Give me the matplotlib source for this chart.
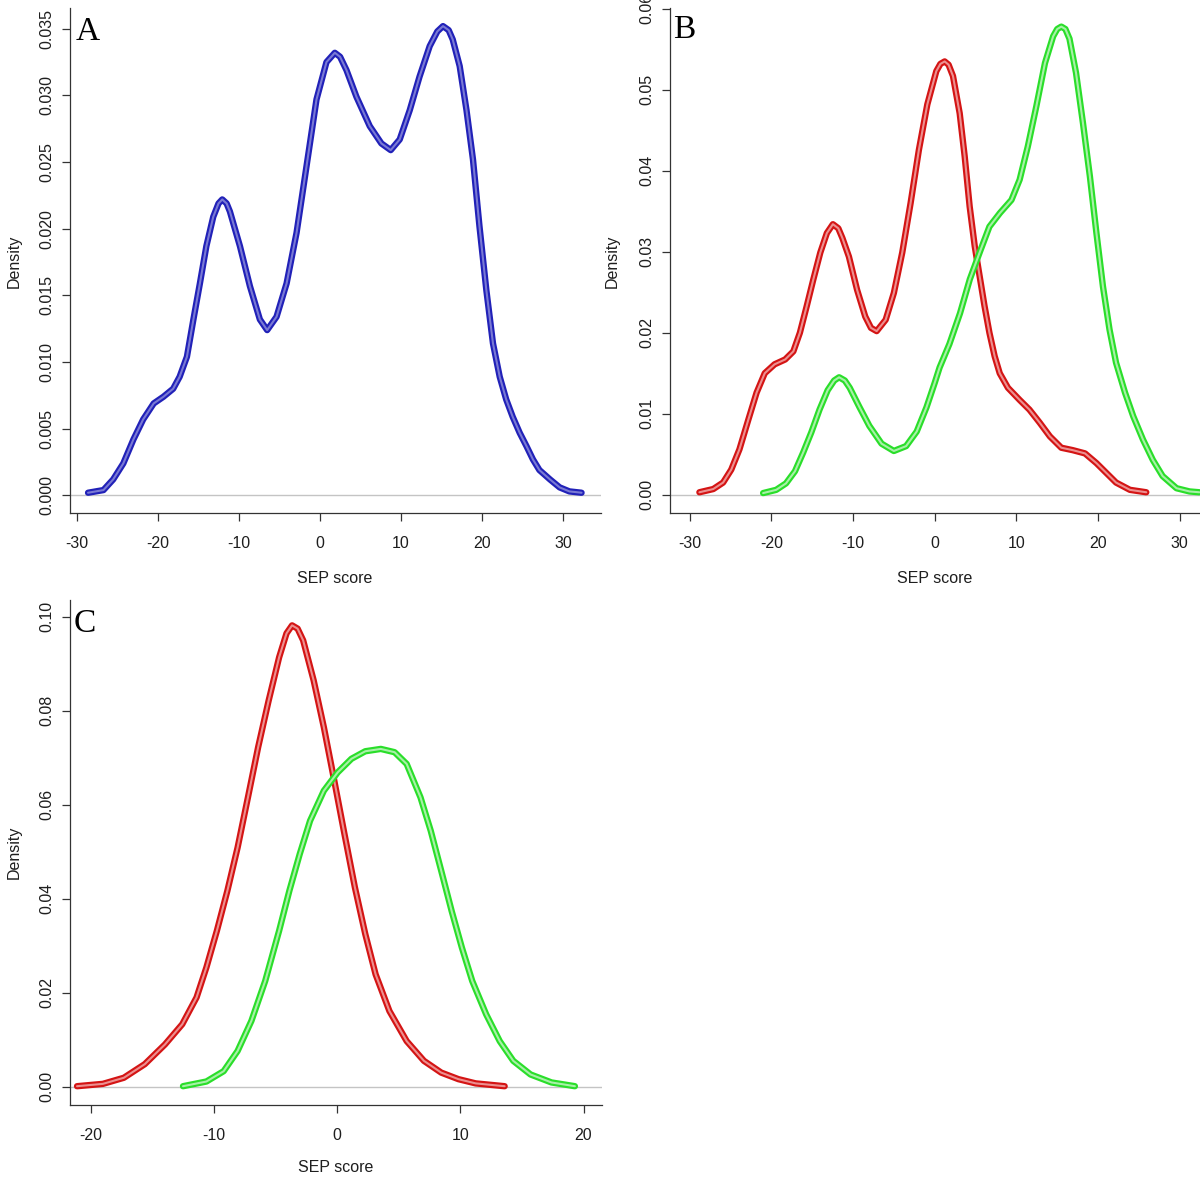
import matplotlib
matplotlib.use("Agg")
import matplotlib.pyplot as plt
import matplotlib.patheffects as pe

# ---------------- data ----------------
a_x = [-28.6, -26.7, -25.5, -24.25, -23.0, -21.8, -20.5, -19.3, -18.1, -17.3,
       -16.4, -15.6, -14.8, -14.0, -13.15, -12.5, -12.04, -11.5, -11.1, -9.86,
       -8.63, -7.4, -6.5, -5.34, -4.1, -2.87, -1.64, -0.41, 0.82, 1.85,
       2.5, 3.29, 4.52, 6.16, 7.6, 8.75, 9.86, 11.1, 12.3, 13.56,
       14.5, 15.2, 15.9, 16.4, 17.26, 18.1, 18.9, 19.7, 20.55, 21.37,
       22.2, 23.0, 23.8, 24.66, 25.5, 26.3, 27.1, 28.4, 29.6, 30.8, 32.3]
a_y = [0.0002, 0.0004, 0.0012, 0.0024, 0.0042, 0.0057, 0.0069, 0.0074, 0.0080, 0.0089,
       0.0104, 0.0132, 0.0159, 0.0187, 0.0209, 0.0219, 0.0222, 0.0219, 0.0213, 0.0187,
       0.0157, 0.0132, 0.0124, 0.0134, 0.0159, 0.0197, 0.0247, 0.0297, 0.0325, 0.0332,
       0.0329, 0.0319, 0.0299, 0.0277, 0.0264, 0.0259, 0.0267, 0.0289, 0.0314, 0.0337,
       0.0348, 0.0352, 0.0349, 0.0342, 0.0322, 0.0289, 0.0252, 0.0202, 0.0154, 0.0114,
       0.0089, 0.0072, 0.0059, 0.0047, 0.0037, 0.0027, 0.0019, 0.0012, 0.0006, 0.0003, 0.0002]

b_red_x = [-28.8, -27.1, -25.9, -24.9, -23.9, -22.8, -21.8, -20.8, -19.6, -18.3,
           -17.3, -16.5, -15.66, -14.85, -14.0, -13.2, -12.46, -11.8, -11.3, -10.5,
           -9.5, -8.5, -7.8, -7.1, -6.0, -5.0, -3.97, -2.95, -1.93, -0.9,
           0.2, 0.7, 1.22, 1.7, 2.24, 3.06, 3.67, 4.28, 4.9, 5.5,
           6.1, 6.7, 7.34, 7.96, 8.97, 10.4, 11.6, 12.85, 14.1, 15.5,
           16.9, 18.4, 19.8, 21.0, 22.2, 23.9, 25.9]
b_red_y = [0.0003, 0.0007, 0.0015, 0.0031, 0.0056, 0.0093, 0.0126, 0.0150, 0.0161, 0.0167,
           0.0177, 0.0200, 0.0233, 0.0266, 0.0299, 0.0323, 0.0334, 0.0329, 0.0317, 0.0294,
           0.0253, 0.0220, 0.0206, 0.0202, 0.0216, 0.0249, 0.0299, 0.0360, 0.0426, 0.0482,
           0.0523, 0.0532, 0.0535, 0.0531, 0.0517, 0.0471, 0.0418, 0.0356, 0.0307, 0.0270,
           0.0233, 0.0200, 0.0171, 0.0150, 0.0132, 0.0117, 0.0105, 0.0089, 0.0072, 0.0058,
           0.0055, 0.0051, 0.0039, 0.0027, 0.0015, 0.0006, 0.0003]

b_green_x = [-21.0, -19.4, -18.2, -17.1, -16.1, -15.1, -14.1, -13.1, -12.3, -11.7,
             -11.0, -10.4, -9.2, -8.0, -6.5, -5.0, -3.5, -2.2, -1.0, 0.0,
             0.6, 1.8, 3.1, 4.3, 5.5, 6.7, 8.0, 9.4, 10.4, 11.4,
             12.45, 13.5, 14.5, 15.0, 15.5, 16.0, 16.5, 17.3, 18.15, 19.0,
             19.8, 20.6, 21.4, 22.2, 23.3, 24.3, 25.5, 26.7, 27.9, 29.6,
             31.2, 32.4]
b_green_y = [0.0002, 0.0006, 0.0014, 0.0029, 0.0052, 0.0077, 0.0105, 0.0129, 0.0141, 0.0145,
             0.0141, 0.0132, 0.0108, 0.0085, 0.0063, 0.0054, 0.0060, 0.0078, 0.0108, 0.0138,
             0.0157, 0.0186, 0.0224, 0.0266, 0.0299, 0.0331, 0.0348, 0.0364, 0.0389, 0.0430,
             0.0480, 0.0533, 0.0566, 0.0575, 0.0578, 0.0575, 0.0563, 0.0521, 0.0459, 0.0393,
             0.0323, 0.0257, 0.0204, 0.0163, 0.0126, 0.0097, 0.0068, 0.0043, 0.0023, 0.0008,
             0.0004, 0.0003]

c_red_x = [-21.1, -19.0, -17.3, -15.6, -13.96, -12.56, -11.4, -10.6, -9.75, -8.9,
           -8.07, -7.23, -6.4, -5.55, -4.7, -4.1, -3.65, -3.2, -2.75, -1.9,
           -1.07, -0.23, 0.6, 1.45, 2.29, 3.13, 4.25, 5.65, 7.05, 8.45,
           9.85, 11.25, 13.6]
c_red_y = [0.0001, 0.0006, 0.0019, 0.0048, 0.0090, 0.0133, 0.0190, 0.0254, 0.0332, 0.0417,
           0.0509, 0.0616, 0.0723, 0.0822, 0.0914, 0.0965, 0.0982, 0.0975, 0.0950, 0.0865,
           0.0765, 0.0652, 0.0538, 0.0424, 0.0325, 0.0239, 0.0161, 0.0097, 0.0055, 0.0030,
           0.0016, 0.0007, 0.0001]

c_green_x = [-12.5, -10.6, -9.2, -8.07, -6.95, -5.83, -4.7, -3.87, -3.03, -2.19,
             -1.07, 0.05, 1.17, 2.29, 3.55, 4.67, 5.65, 6.77, 7.6, 8.45,
             9.3, 10.13, 10.97, 12.1, 13.2, 14.3, 15.7, 17.4, 19.3]
c_green_y = [0.0001, 0.0011, 0.0033, 0.0076, 0.0140, 0.0225, 0.0332, 0.0417, 0.0495, 0.0566,
             0.0630, 0.0669, 0.0698, 0.0714, 0.0719, 0.0712, 0.0687, 0.0616, 0.0545, 0.0460,
             0.0374, 0.0296, 0.0225, 0.0154, 0.0097, 0.0055, 0.0026, 0.0009, 0.0001]

a_yticks = [0.000, 0.005, 0.010, 0.015, 0.020, 0.025, 0.030, 0.035]
a_yticklabels = ["0.000", "0.005", "0.010", "0.015", "0.020", "0.025", "0.030", "0.035"]
b_yticks = [0.00, 0.01, 0.02, 0.03, 0.04, 0.05, 0.06]
b_yticklabels = ["0.00", "0.01", "0.02", "0.03", "0.04", "0.05", "0.06"]
c_yticks = [0.00, 0.02, 0.04, 0.06, 0.08, 0.10]
c_yticklabels = ["0.00", "0.02", "0.04", "0.06", "0.08", "0.10"]
ab_xticks = [-30, -20, -10, 0, 10, 20, 30]
c_xticks = [-20, -10, 0, 10, 20]

# ---------------- figure ----------------
W = H = 1200
fig = plt.figure(figsize=(12, 12), dpi=100)
fig.patch.set_facecolor("white")

SANS = ["Liberation Sans", "Arial", "DejaVu Sans"]
SERIF = ["Liberation Serif", "Times New Roman", "DejaVu Serif"]
TXT = "#1e1e1e"
FS = 11.5


def px_axes(l, t, r, b):
    return fig.add_axes([l / W, 1 - b / H, (r - l) / W, (b - t) / H])


def tube(ax, x, y, edge, fill):
    ax.plot(x, y, color=fill, lw=1.5, solid_joinstyle="round", solid_capstyle="round",
            zorder=3, clip_on=True,
            path_effects=[pe.Stroke(linewidth=4.6, foreground=edge, capstyle="round",
                                    joinstyle="round"), pe.Normal()])


def style(ax, xlim, ylim, xticks, yticks, yticklabels):
    ax.set_xlim(*xlim)
    ax.set_ylim(*ylim)
    for s in ("top", "right"):
        ax.spines[s].set_visible(False)
    for s in ("left", "bottom"):
        ax.spines[s].set_color("#333333")
        ax.spines[s].set_linewidth(0.9)
    ax.axhline(0, color="#c4c4c4", lw=1.0, zorder=1)
    ax.set_xticks(xticks)
    ax.set_xticklabels([str(t) for t in xticks], fontsize=FS, family=SANS, color=TXT)
    ax.set_yticks(yticks)
    ax.set_yticklabels(yticklabels, fontsize=FS, family=SANS, color=TXT,
                       rotation=90, va="center", ha="right")
    ax.tick_params(direction="out", length=6, width=0.9, color="#333333")
    ax.tick_params(axis="x", pad=10.5)
    ax.tick_params(axis="y", pad=5.5)
    ax.patch.set_alpha(0)


# Panel A
axA = px_axes(70, 8, 601, 513)
style(axA, (-30.83, 34.7), (-0.00132, 0.03656), ab_xticks, a_yticks, a_yticklabels)
tube(axA, a_x, a_y, "#2121b8", "#7a7ad4")

# Panel B
axB = px_axes(670, 8, 1201, 513)
style(axB, (-32.4, 32.6), (-0.00226, 0.0601), ab_xticks, b_yticks, b_yticklabels)
tube(axB, b_red_x, b_red_y, "#d41414", "#ec9090")
tube(axB, b_green_x, b_green_y, "#2ade2a", "#a8f0a8")

# Panel C
axC = px_axes(70, 600, 602, 1105)
style(axC, (-21.67, 21.5), (-0.0039, 0.1036), c_xticks, c_yticks, c_yticklabels)
tube(axC, c_red_x, c_red_y, "#d41414", "#ec9090")
tube(axC, c_green_x, c_green_y, "#2ade2a", "#a8f0a8")

# axis titles and panel letters
for (x, y) in [(335, 579), (935, 579), (336, 1168)]:
    fig.text(x / W, 1 - y / H, "SEP score", ha="center", va="center",
             fontsize=FS, family=SANS, color=TXT)
for (x, y) in [(14, 261), (612, 261), (14, 852)]:
    fig.text(x / W, 1 - y / H, "Density", ha="center", va="center", rotation=90,
             fontsize=FS, family=SANS, color=TXT)
for (x, y, s) in [(76, 40, "A"), (673, 38, "B"), (74, 632, "C")]:
    fig.text(x / W, 1 - y / H, s, ha="left", va="baseline", fontsize=24,
             family=SERIF, color="black")

fig.savefig("out.png", dpi=100, facecolor="white")
